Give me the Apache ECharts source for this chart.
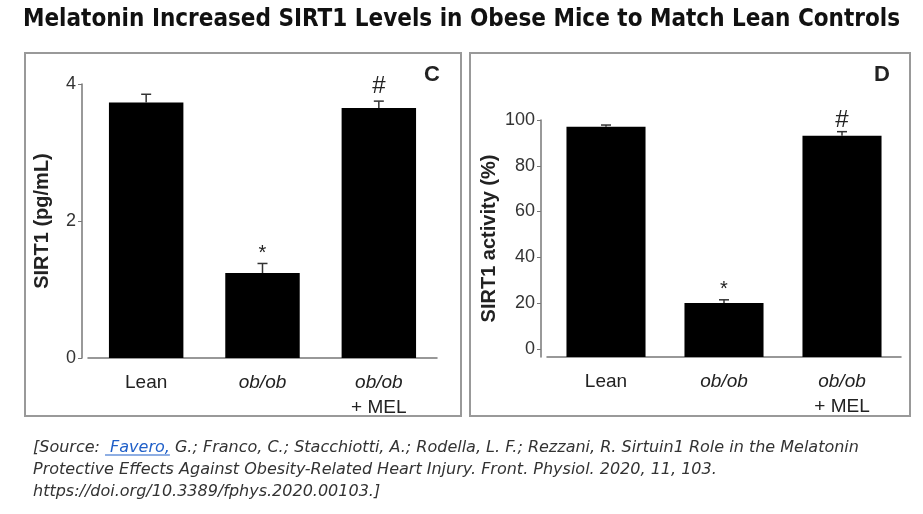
<!DOCTYPE html>
<html>
<head>
<meta charset="utf-8">
<script src="https://cdn.jsdelivr.net/npm/echarts@6/dist/echarts.min.js"></script>
<style>html,body{margin:0;padding:0;background:#fff}#c{width:923px;height:514px}</style>
</head>
<body>
<div id="c"></div>
<script>
const categories = ['Lean', 'ob/ob', 'ob/ob\n+ MEL'];
const sirt1Level = [3.73, 1.24, 3.65];
const sirt1LevelErr = [0.12, 0.14, 0.10];
const sirt1Activity = [97.1, 20.0, 93.1];
const sirt1ActivityErr = [0.7, 1.4, 1.8];
const sigMarks = ['', '*', '#'];
const levelTicks = [0, 2, 4];
const activityTicks = [0, 20, 40, 60, 80, 100];

const chart = echarts.init(document.getElementById('c'));
const F = 'Liberation Sans, Arial, sans-serif';
const SF = 'DejaVu Sans Condensed';
const CF = 'DejaVu Sans';
const CSIZE = 16;

function catFormatter(v) {
  return v.split('\n').map(l => (l.indexOf('ob') === 0 ? '{i|' + l + '}' : '{n|' + l + '}')).join('\n');
}
const catRich = {
  n: {fontFamily: F, fontSize: 19, color: '#222', lineHeight: 25},
  i: {fontFamily: F, fontSize: 19, fontStyle: 'italic', color: '#222', lineHeight: 25}
};

function errData(vals, errs) {
  return vals.map((v, i) => [i, v, errs[i]]);
}
function makeErrRender(hashGap) {
  return function (params, api) {
    const x = api.value(0), v = api.value(1), e = api.value(2);
    const mark = sigMarks[params.dataIndex];
    const base = api.coord([x, v]);
    const top = api.coord([x, v + e]);
    const style = {stroke: '#333', lineWidth: 1.5};
    const children = [
      {type: 'line', shape: {x1: base[0], y1: base[1], x2: top[0], y2: top[1]}, style},
      {type: 'line', shape: {x1: top[0] - 5, y1: top[1], x2: top[0] + 5, y2: top[1]}, style}
    ];
    if (mark) {
      const isStar = mark === '*';
      children.push({
        type: 'text',
        style: {
          text: mark, x: top[0], y: top[1] - (isStar ? 10 : hashGap),
          align: 'center', verticalAlign: 'middle',
          fontFamily: F, fontSize: isStar ? 20 : 24, fill: '#222'
        }
      });
    }
    return {type: 'group', children};
  };
}

// measure text for the link underline
const mctx = document.createElement('canvas').getContext('2d');
mctx.font = 'italic ' + CSIZE + 'px "' + CF + '"';
const preW = mctx.measureText('[Source: ').width;
const linkW = mctx.measureText(' Favero,').width;
const SRC_LEFT = 33, SRC_TOP = 432, SRC_LH = 22;

const axisLineStyle = {color: '#777', width: 1.5};
const srcStyle = {fontFamily: CF, fontStyle: 'italic', fontWeight: 'normal', fontSize: CSIZE, color: '#333', lineHeight: SRC_LH};

chart.setOption({
  animation: false,
  backgroundColor: '#fff',
  title: [
    {
      text: 'Melatonin Increased SIRT1 Levels in Obese Mice to Match Lean Controls',
      left: 'center', top: 3,
      textStyle: {fontFamily: SF, fontWeight: 'bold', fontSize: 24, color: '#111'}
    },
    {
      text: '{t|[Source: }{a| Favero,}{t| G.; Franco, C.; Stacchiotti, A.; Rodella, L. F.; Rezzani, R. Sirtuin1 Role in the Melatonin}\n{t|Protective Effects Against Obesity-Related Heart Injury. Front. Physiol. 2020, 11, 103.}\n{t|https://doi.org/10.3389/fphys.2020.00103.]}',
      left: SRC_LEFT - 5, top: SRC_TOP,
      textStyle: {
        fontWeight: 'normal',
        rich: {
          t: srcStyle,
          a: Object.assign({}, srcStyle, {color: '#1f5fc8'})
        }
      }
    }
  ],
  grid: [
    {left: 88, right: 486, top: 84, bottom: 156},
    {left: 547, right: 22, top: 120, bottom: 157}
  ],
  xAxis: [0, 1].map(g => ({
    type: 'category', gridIndex: g, data: categories,
    axisLine: {onZero: false, lineStyle: axisLineStyle},
    axisTick: {show: false},
    axisLabel: {margin: 12, formatter: catFormatter, rich: catRich, interval: 0}
  })),
  yAxis: [
    {
      type: 'value', gridIndex: 0, min: 0, max: 4, interval: 2, offset: 6,
      name: 'SIRT1 (pg/mL)', nameLocation: 'middle', nameGap: 30, nameRotate: 90,
      nameTextStyle: {fontFamily: F, fontWeight: 'bold', fontSize: 20, color: '#222'},
      axisLine: {show: true, lineStyle: axisLineStyle},
      axisTick: {show: true, length: 4, lineStyle: {color: '#777'}, customValues: levelTicks},
      axisLabel: {fontFamily: F, fontSize: 18, color: '#333', margin: 6, customValues: levelTicks},
      splitLine: {show: false}
    },
    {
      type: 'value', gridIndex: 1, min: -3.6, max: 100, startValue: -3.6, offset: 6,
      name: 'SIRT1 activity (%)', nameLocation: 'middle', nameGap: 42, nameRotate: 90,
      nameTextStyle: {fontFamily: F, fontWeight: 'bold', fontSize: 20, color: '#222'},
      axisLine: {show: true, lineStyle: axisLineStyle},
      axisTick: {show: true, length: 4, lineStyle: {color: '#777'}, customValues: activityTicks},
      axisLabel: {fontFamily: F, fontSize: 18, color: '#333', margin: 6, customValues: activityTicks},
      splitLine: {show: false}
    }
  ],
  series: [
    {type: 'bar', xAxisIndex: 0, yAxisIndex: 0, data: sirt1Level, barWidth: '64%',
      itemStyle: {color: '#000'}},
    {type: 'custom', xAxisIndex: 0, yAxisIndex: 0, data: errData(sirt1Level, sirt1LevelErr),
      renderItem: makeErrRender(15), z: 3},
    {type: 'bar', xAxisIndex: 1, yAxisIndex: 1, data: sirt1Activity, barWidth: '67%',
      itemStyle: {color: '#000'}},
    {type: 'custom', xAxisIndex: 1, yAxisIndex: 1, data: errData(sirt1Activity, sirt1ActivityErr),
      renderItem: makeErrRender(11), z: 3}
  ],
  graphic: [
    {type: 'rect', shape: {x: 25, y: 53, width: 436, height: 363}, style: {fill: 'none', stroke: '#999', lineWidth: 2}, silent: true},
    {type: 'rect', shape: {x: 470, y: 53, width: 440, height: 363}, style: {fill: 'none', stroke: '#999', lineWidth: 2}, silent: true},
    {type: 'text', x: 432, y: 75, style: {text: 'C', align: 'center', verticalAlign: 'middle', fontFamily: F, fontWeight: 'bold', fontSize: 22, fill: '#222'}},
    {type: 'text', x: 882, y: 75, style: {text: 'D', align: 'center', verticalAlign: 'middle', fontFamily: F, fontWeight: 'bold', fontSize: 22, fill: '#222'}},
    {type: 'rect', shape: {x: SRC_LEFT + preW, y: SRC_TOP + 5 + SRC_LH / 2 + 6.5, width: linkW, height: 1}, style: {fill: '#1f5fc8'}, silent: true}
  ]
});
</script>
</body>
</html>
